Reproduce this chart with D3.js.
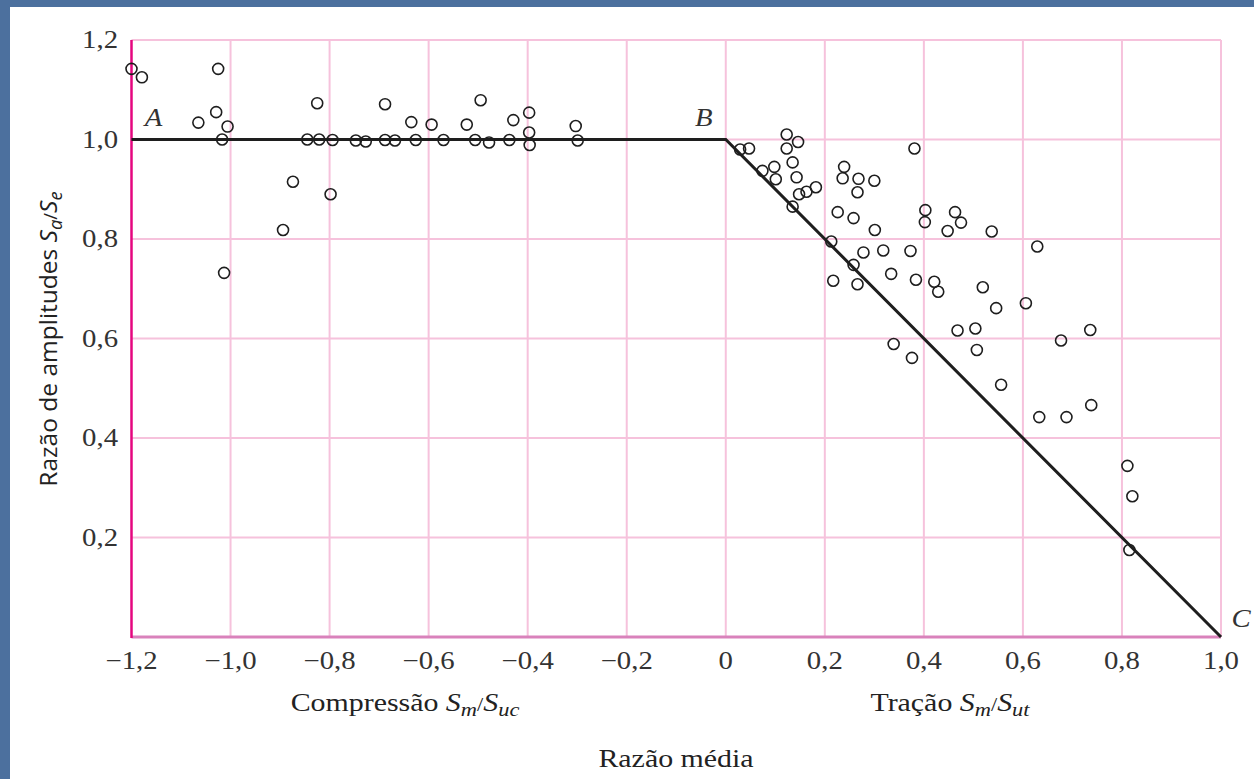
<!DOCTYPE html>
<html><head><meta charset="utf-8">
<script src="https://cdn.jsdelivr.net/npm/d3@7"></script>
<style>
html,body{margin:0;padding:0;background:#4c709e;}
svg{display:block;}
</style></head>
<body>
<svg id="chart" width="1254" height="779"></svg>
<script>
// ---- data ----
const xTicks = [-1.2,-1.0,-0.8,-0.6,-0.4,-0.2,0,0.2,0.4,0.6,0.8,1.0];
const xTickLabels = ["\u22121,2","\u22121,0","\u22120,8","\u22120,6","\u22120,4","\u22120,2","0","0,2","0,4","0,6","0,8","1,0"];
const yTicks = [0.2,0.4,0.6,0.8,1.0,1.2];
const yTickLabels = ["0,2","0,4","0,6","0,8","1,0","1,2"];

// limit line A-B-C
const lineX = [-1.2, 0, 1.0];
const lineY = [1.0, 1.0, 0];
const pointLabels = ["A","B","C"];

// compression data (Sm/Suc, Sa/Se)
const compX = [-1.200,-1.179,-1.025,-1.065,-1.029,-1.006,-1.017,-0.825,-0.845,-0.821,-0.794,-0.747,-0.727,-0.688,-0.668,-0.626,-0.688,-0.635,-0.874,-0.798,-0.894,-1.013,-0.594,-0.570,-0.523,-0.495,-0.506,-0.478,-0.437,-0.429,-0.397,-0.397,-0.396,-0.303,-0.299];
const compY = [1.142,1.125,1.142,1.034,1.055,1.026,1.000,1.073,1.000,1.000,0.999,0.998,0.996,0.999,0.998,0.999,1.071,1.035,0.915,0.890,0.818,0.732,1.030,0.999,1.030,1.079,0.999,0.994,0.999,1.039,1.054,1.014,0.989,1.027,0.998];

// tension data (Sm/Sut, Sa/Se)
const tensX = [0.029,0.047,0.123,0.146,0.123,0.381,0.074,0.098,0.101,0.135,0.143,0.148,0.163,0.182,0.135,0.239,0.236,0.268,0.266,0.300,0.226,0.258,0.301,0.403,0.402,0.463,0.475,0.448,0.537,0.629,0.213,0.278,0.318,0.373,0.258,0.217,0.266,0.334,0.384,0.421,0.429,0.519,0.546,0.606,0.468,0.504,0.507,0.677,0.736,0.339,0.376,0.556,0.633,0.688,0.738,0.811,0.821,0.815];
const tensY = [0.980,0.982,1.010,0.995,0.982,0.982,0.937,0.945,0.920,0.954,0.924,0.890,0.895,0.904,0.865,0.945,0.922,0.921,0.894,0.917,0.854,0.842,0.818,0.858,0.834,0.854,0.833,0.816,0.815,0.785,0.795,0.773,0.777,0.776,0.748,0.716,0.709,0.730,0.718,0.714,0.694,0.703,0.661,0.671,0.616,0.620,0.577,0.596,0.617,0.589,0.561,0.507,0.442,0.442,0.466,0.344,0.283,0.175];

// ---- drawing ----
const svg = d3.select("#chart");
svg.append("rect").attr("x",10).attr("y",7).attr("width",1244).attr("height",772).attr("fill","#ffffff");

const x = d3.scaleLinear().domain([-1.2,1.0]).range([131.5,1221]);
const y = d3.scaleLinear().domain([0,1.2]).range([637,40]);

const grid = svg.append("g");
grid.selectAll("line.v").data(xTicks.slice(1)).enter().append("line")
  .attr("x1",d=>x(d)).attr("x2",d=>x(d)).attr("y1",y(1.2)).attr("y2",y(0))
  .attr("stroke","#f6c2dc").attr("stroke-width",2);
grid.selectAll("line.h").data(yTicks).enter().append("line")
  .attr("x1",x(-1.2)).attr("x2",x(1.0)).attr("y1",d=>y(d)).attr("y2",d=>y(d))
  .attr("stroke","#f6c2dc").attr("stroke-width",2);
svg.append("line").attr("x1",x(-1.2)).attr("x2",x(1.0)).attr("y1",y(0)).attr("y2",y(0))
  .attr("stroke","#d982bb").attr("stroke-width",3);
svg.append("line").attr("x1",x(-1.2)).attr("x2",x(-1.2)).attr("y1",y(1.2)).attr("y2",y(0)+1)
  .attr("stroke","#e5067f").attr("stroke-width",2.5);

const serif = "'Liberation Serif', 'Times New Roman', serif";
const SX = 1.15; // the reference text is slightly stretched horizontally

// tick labels
svg.append("g").selectAll("text").data(xTicks).enter().append("text")
  .attr("transform",d=>`translate(${x(d)},669) scale(${SX},1)`).attr("text-anchor","middle")
  .attr("font-family",serif).attr("font-size",25).attr("fill","#333")
  .text((d,i)=>xTickLabels[i]);
svg.append("g").selectAll("text").data(yTicks).enter().append("text")
  .attr("transform",d=>`translate(118,${y(d)+8}) scale(${SX},1)`).attr("text-anchor","end")
  .attr("font-family",serif).attr("font-size",25).attr("fill","#333")
  .text((d,i)=>yTickLabels[i]);

// limit line
const lineData = lineX.map((v,i)=>[v,lineY[i]]);
svg.append("path").datum(lineData)
  .attr("d",d3.line().x(d=>x(d[0])).y(d=>y(d[1])))
  .attr("fill","none").attr("stroke","#1e1e1e").attr("stroke-width",3);

// points
const comp = compX.map((v,i)=>[v,compY[i]]);
const tens = tensX.map((v,i)=>[v,tensY[i]]);
svg.append("g").selectAll("circle").data(comp.concat(tens)).enter().append("circle")
  .attr("cx",d=>x(d[0])).attr("cy",d=>y(d[1])).attr("r",5.5)
  .attr("fill","none").attr("stroke","#1e1e1e").attr("stroke-width",1.6);

// A B C labels
const labOff = [[22,-14],[-22,-14],[20,-10]];
svg.append("g").selectAll("text").data(lineData).enter().append("text")
  .attr("transform",(d,i)=>`translate(${x(d[0])+labOff[i][0]},${y(d[1])+labOff[i][1]}) scale(${SX},1)`)
  .attr("text-anchor","middle").attr("font-family",serif).attr("font-style","italic")
  .attr("font-size",25).attr("fill","#333").text((d,i)=>pointLabels[i]);

// axis titles
function subTitle(g, parts){
  parts.forEach(p=>{
    const t = g.append("tspan").text(p.t);
    if(p.i) t.attr("font-style","italic");
    if(p.sub) t.attr("font-size","0.75em").attr("dy",p.sub);
  });
}
const tComp = svg.append("text").attr("transform",`translate(405,711) scale(${SX},1)`).attr("text-anchor","middle")
  .attr("font-family",serif).attr("font-size",26).attr("fill","#222");
subTitle(tComp,[{t:"Compress\u00e3o "},{t:"S",i:1},{t:"m",i:1,sub:5},{t:"/",sub:-5},{t:"S",i:1},{t:"uc",i:1,sub:5}]);
const tTrac = svg.append("text").attr("transform",`translate(950,711) scale(${SX},1)`).attr("text-anchor","middle")
  .attr("font-family",serif).attr("font-size",26).attr("fill","#222");
subTitle(tTrac,[{t:"Tra\u00e7\u00e3o "},{t:"S",i:1},{t:"m",i:1,sub:5},{t:"/",sub:-5},{t:"S",i:1},{t:"ut",i:1,sub:5}]);
svg.append("text").attr("transform",`translate(676,767) scale(${SX},1)`).attr("text-anchor","middle")
  .attr("font-family",serif).attr("font-size",26).attr("fill","#222").text("Raz\u00e3o m\u00e9dia");

const tY = svg.append("text").attr("transform","translate(57,339) rotate(-90)").attr("text-anchor","middle")
  .attr("font-family","'Open Sans', sans-serif").attr("font-size",24.5).attr("fill","#222");
subTitle(tY,[{t:"Raz\u00e3o de amplitudes "},{t:"S",i:1},{t:"a",i:1,sub:5},{t:"/",sub:-5},{t:"S",i:1},{t:"e",i:1,sub:5}]);
</script>
</body></html>
